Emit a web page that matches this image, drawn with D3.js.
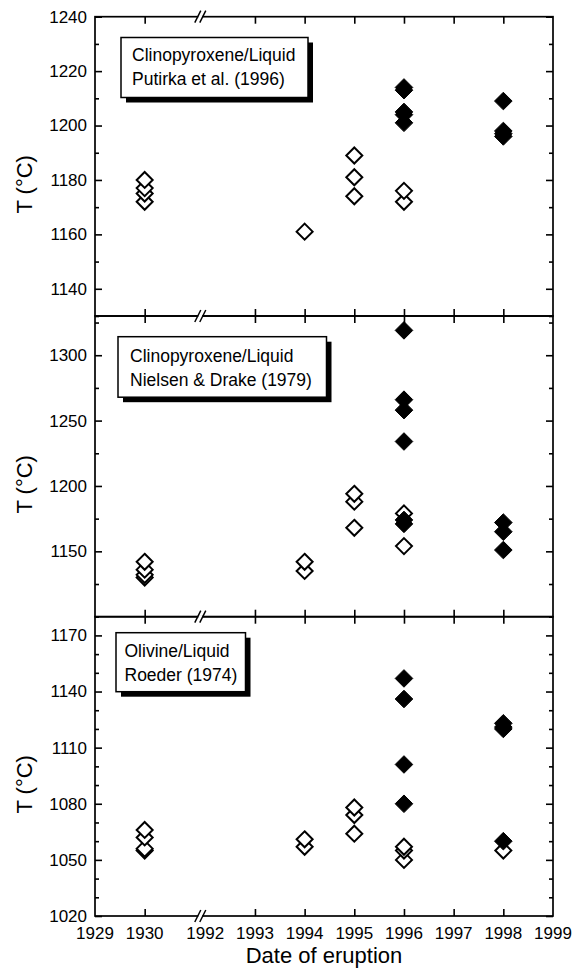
<!DOCTYPE html>
<html>
<head>
<meta charset="utf-8">
<script src="https://cdn.jsdelivr.net/npm/d3@7"></script>
<style>
  html, body { margin: 0; padding: 0; background: #fff; }
  svg { display: block; }
  text { font-family: "Liberation Sans", Arial, Helvetica, sans-serif; fill: #000; }
</style>
</head>
<body>
<svg id="chart" width="583" height="974"></svg>
<script>
// ---- data: [year, temperature °C] ----
// Clinopyroxene/Liquid, Putirka et al. (1996)
const putirkaOpen = [[1930,1172],[1930,1175],[1930,1177],[1930,1180],[1994,1161],
  [1995,1174],[1995,1181],[1995,1189],[1996,1172],[1996,1176]];
const putirkaFilled = [[1996,1201],[1996,1204],[1996,1205],[1996,1213],[1996,1214],
  [1998,1196],[1998,1197],[1998,1198],[1998,1209]];
// Clinopyroxene/Liquid, Nielsen & Drake (1979)
const nielsenOpen = [[1930,1130],[1930,1132],[1930,1136],[1930,1142],[1994,1135],[1994,1142],
  [1995,1168],[1995,1188],[1995,1194],[1996,1154],[1996,1179]];
const nielsenFilled = [[1996,1171],[1996,1174],[1996,1234],[1996,1258],[1996,1266],[1996,1319],
  [1998,1151],[1998,1165],[1998,1172]];
// Olivine/Liquid, Roeder (1974)
const roederOpen = [[1930,1055],[1930,1056],[1930,1062],[1930,1066],[1994,1057],[1994,1061],
  [1995,1064],[1995,1074],[1995,1078],[1996,1050],[1996,1055],[1996,1057],[1998,1055]];
const roederFilled = [[1996,1080],[1996,1101],[1996,1136],[1996,1147],
  [1998,1060],[1998,1120],[1998,1121],[1998,1123]];

// axis ticks
const xTickYears = [1929,1930,1992,1993,1994,1995,1996,1997,1998,1999];
const xTickLabels = ["1929","1930","1992","1993","1994","1995","1996","1997","1998","1999"];
const xFrameTicks = [1930,1993,1994,1995,1996,1997,1998];
const putirkaTicks = [1140,1160,1180,1200,1220,1240];
const putirkaMinor = [1130,1150,1170,1190,1210,1230];
const nielsenTicks = [1150,1200,1250,1300];
const nielsenMinor = [1100,1125,1175,1225,1275,1325];
const roederTicks = [1020,1050,1080,1110,1140,1170];
const roederMinor = [1030,1040,1060,1070,1090,1100,1120,1130,1150,1160];

const panelLegends = [
  ["Clinopyroxene/Liquid", "Putirka et al. (1996)"],
  ["Clinopyroxene/Liquid", "Nielsen & Drake (1979)"],
  ["Olivine/Liquid", "Roeder (1974)"]
];

// ---- layout ----
const svg = d3.select("#chart");
const left = 95, right = 553;
const yearGap = 2.22;   // width of the broken 1930–1993 interval, in years
const slot = yr => yr <= 1930 ? yr - 1929 : yr - 1993 + 1 + yearGap;
const x = d3.scaleLinear().domain([slot(1929), slot(1999)]).range([left, right]);
const xs = yr => x(slot(yr));
const breakX = xs(1992) - 5;

const panels = [
  { top: 16.7, bottom: 316, domain: [1130, 1240], ticks: putirkaTicks, minor: putirkaMinor,
    open: putirkaOpen, filled: putirkaFilled, legend: panelLegends[0],
    box: { x: 121, y: 37.5, w: 187, h: 60 }, textX: 132, lines: [61, 84.5] },
  { top: 316, bottom: 616.7, domain: [1100, 1330], ticks: nielsenTicks, minor: nielsenMinor,
    open: nielsenOpen, filled: nielsenFilled, legend: panelLegends[1],
    box: { x: 118, y: 336.7, w: 208.5, h: 60.5 }, textX: 130, lines: [361.5, 386] },
  { top: 616.7, bottom: 916, domain: [1020, 1180], ticks: roederTicks, minor: roederMinor,
    open: roederOpen, filled: roederFilled, legend: panelLegends[2],
    box: { x: 116, y: 632.7, w: 129.5, h: 59 }, textX: 124.5, lines: [657, 680.5] }
];

const diamond = r => `M0,${-r}L${r},0L0,${r}L${-r},0Z`;

panels.forEach((p, i) => {
  const y = d3.scaleLinear().domain(p.domain).range([p.bottom, p.top]);
  const g = svg.append("g");

  // y axes, left (labelled) and right, ticks pointing inward
  const yLeft = d3.axisLeft(y).tickValues(p.ticks).tickSize(-7).tickPadding(8).tickFormat(d3.format("d"));
  const yRight = d3.axisRight(y).tickValues(p.ticks).tickSize(-7).tickFormat("");
  const yLeftMinor = d3.axisLeft(y).tickValues(p.minor).tickSize(-4).tickFormat("");
  const yRightMinor = d3.axisRight(y).tickValues(p.minor).tickSize(-4).tickFormat("");
  [[yLeft, left], [yLeftMinor, left], [yRight, right], [yRightMinor, right]].forEach(([ax, px]) => {
    const a = g.append("g").attr("transform", `translate(${px},0)`).call(ax);
    a.select(".domain").remove();
    a.selectAll(".tick line").attr("stroke", "#000").attr("stroke-width", 1.6);
    a.selectAll(".tick text").attr("font-size", 17).attr("fill", "#000")
      .attr("font-family", "'Liberation Sans', Arial, Helvetica, sans-serif");
  });

  // x ticks on top and bottom edges, pointing inward
  const xTop = d3.axisTop(x).tickValues(xFrameTicks.map(slot)).tickSize(-7).tickFormat("");
  const xBot = d3.axisBottom(x).tickValues(xFrameTicks.map(slot)).tickSize(-7).tickFormat("");
  [[xTop, p.top], [xBot, p.bottom]].forEach(([ax, py]) => {
    const a = g.append("g").attr("transform", `translate(0,${py})`).call(ax);
    a.select(".domain").remove();
    a.selectAll(".tick line").attr("stroke", "#000").attr("stroke-width", 1.6);
  });

  // frame
  g.append("rect").attr("x", left).attr("y", p.top)
    .attr("width", right - left).attr("height", p.bottom - p.top)
    .attr("fill", "none").attr("stroke", "#000").attr("stroke-width", 1.7);

  // axis title
  g.append("text")
    .attr("transform", `translate(32,${(p.top + p.bottom) / 2 + 18}) rotate(-90)`)
    .attr("text-anchor", "middle").attr("font-size", 22).text("T (°C)");

  // legend box with drop shadow
  const b = p.box;
  g.append("rect").attr("x", b.x + 5).attr("y", b.y + 5).attr("width", b.w).attr("height", b.h).attr("fill", "#000");
  g.append("rect").attr("x", b.x).attr("y", b.y).attr("width", b.w).attr("height", b.h)
    .attr("fill", "#fff").attr("stroke", "#000").attr("stroke-width", 1.5);
  p.legend.forEach((t, k) => {
    g.append("text").attr("x", p.textX).attr("y", p.lines[k]).attr("font-size", 17.5).text(t);
  });

  // data: open symbols first, filled drawn over them
  const sortAsc = arr => arr.slice().sort((a, b) => a[1] - b[1]);
  g.selectAll(".open").data(sortAsc(p.open)).join("path")
    .attr("transform", d => `translate(${xs(d[0])},${y(d[1])})`)
    .attr("d", diamond(8)).attr("fill", "#fff").attr("stroke", "#000").attr("stroke-width", 2);
  g.selectAll(".filled").data(sortAsc(p.filled)).join("path")
    .attr("transform", d => `translate(${xs(d[0])},${y(d[1])})`)
    .attr("d", diamond(8.8)).attr("fill", "#000").attr("stroke", "#000").attr("stroke-width", 1);
});

// axis break marks on every horizontal frame line
const frameLines = [16.7, 316, 616.7, 916];
frameLines.forEach(fy => {
  svg.append("rect").attr("x", breakX - 2).attr("y", fy - 1.5).attr("width", 4).attr("height", 3).attr("fill", "#fff");
  [-2.5, 2.5].forEach(dx => {
    svg.append("line")
      .attr("x1", breakX + dx - 3).attr("y1", fy + 6)
      .attr("x2", breakX + dx + 3).attr("y2", fy - 6)
      .attr("stroke", "#000").attr("stroke-width", 1.5);
  });
});

// x tick labels under the bottom panel
svg.append("g").selectAll("text").data(xTickYears).join("text")
  .attr("x", d => xs(d)).attr("y", 938.5).attr("text-anchor", "middle")
  .attr("font-size", 17).text((d, i) => xTickLabels[i]);

svg.append("text").attr("x", (left + right) / 2).attr("y", 963)
  .attr("text-anchor", "middle").attr("font-size", 22).text("Date of eruption");
</script>
</body>
</html>
